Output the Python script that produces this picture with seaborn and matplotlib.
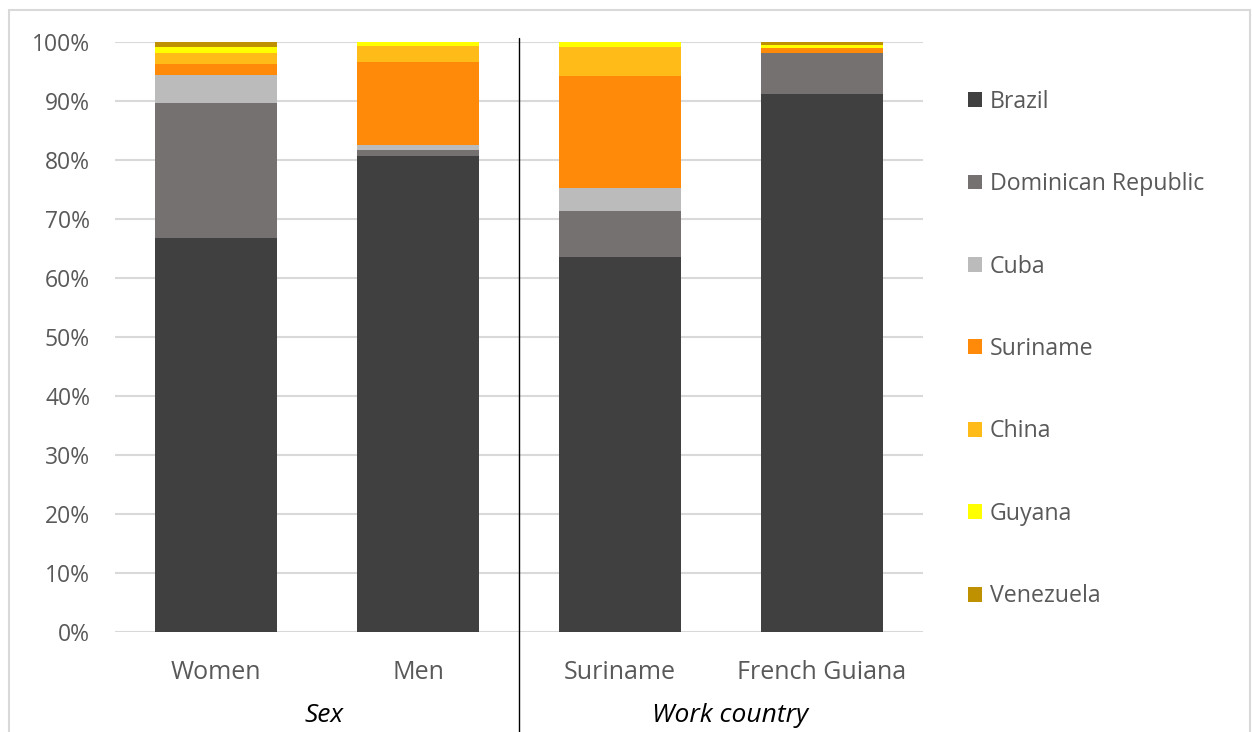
import matplotlib
matplotlib.use("Agg")
import matplotlib.pyplot as plt
import matplotlib.transforms as mtransforms
from matplotlib.patches import Patch, Rectangle
import seaborn as sns
import pandas as pd
import numpy as np

# ---- data ----
categories = ["Women", "Men", "Suriname", "French Guiana"]
groups = ["Sex", "Work country"]
series = ["Brazil", "Dominican Republic", "Cuba", "Suriname", "China", "Guyana", "Venezuela"]
brazil = [66.8, 80.6, 63.6, 91.2]
dominican = [22.8, 1.1, 7.8, 7.0]
cuba = [4.8, 0.8, 3.8, 0.0]
suriname = [1.9, 14.1, 19.1, 0.7]
china = [1.9, 2.8, 4.8, 0.0]
guyana = [1.0, 0.6, 0.9, 0.6]
venezuela = [0.8, 0.0, 0.0, 0.5]
yticks = [0, 10, 20, 30, 40, 50, 60, 70, 80, 90, 100]
colors = ["#404040", "#767171", "#BBBBBB", "#FF8A0A", "#FFBB18", "#FFFF00", "#BF9000"]

values = [brazil, dominican, cuba, suriname, china, guyana, venezuela]

sns.set_theme(style="white")
plt.rcParams["font.family"] = ["Open Sans", "DejaVu Sans"]

fig = plt.figure(figsize=(12.52, 7.32), dpi=100)
ax = fig.add_axes([115 / 1252, 1 - 632 / 732, 808 / 1252, 590 / 732])

# chart-area border
fig.patches.append(Rectangle((9 / 1252, -0.05), (1250 - 9) / 1252, (1 - 10 / 732) + 0.05,
                             transform=fig.transFigure, fill=False, edgecolor="#D9D9D9",
                             linewidth=1.5, zorder=0))

# stacked bars: draw cumulative totals from top series down
cum = np.cumsum(np.array(values, dtype=float), axis=0)
for i in range(len(series) - 1, -1, -1):
    df = pd.DataFrame({"cat": categories, "val": cum[i] / 100.0})
    sns.barplot(data=df, x="cat", y="val", color=colors[i], width=0.6,
                saturation=1, ax=ax, zorder=3, order=categories,
                linewidth=0, edgecolor="none")

ax.set_ylim(0, 1.0)
ax.set_xlim(-0.5, 3.5)
ax.set_yticks([t / 100 for t in yticks])
ax.set_yticklabels([f"{t}%" for t in yticks])
ax.yaxis.grid(True, color="#D9D9D9", linewidth=1.5, zorder=0)
ax.xaxis.grid(False)
for s in ax.spines.values():
    s.set_visible(False)
ax.set_xlabel("")
ax.set_ylabel("")
ax.tick_params(axis="y", length=0, pad=18, labelsize=16.5, labelcolor="#595959")
ax.tick_params(axis="x", length=0, pad=20, labelsize=18, labelcolor="#595959")

# separator line between groups
ax.axvline(1.5, ymin=-100 / 590, ymax=(632 - 38) / 590, color="black",
           linewidth=1.0, clip_on=False, zorder=5)

# group labels
trans = mtransforms.blended_transform_factory(ax.transData, fig.transFigure)
ax.text(0.535, 1 - 715 / 732, groups[0], transform=trans, ha="center", va="center",
        fontsize=19, style="italic", color="black")
ax.text(2.545, 1 - 715 / 732, groups[1], transform=trans, ha="center", va="center",
        fontsize=19, style="italic", color="black")

# legend
handles = [Patch(facecolor=c, edgecolor="none", label=s) for s, c in zip(series, colors)]
leg = fig.legend(handles=handles, loc="center left",
                 bbox_to_anchor=(968 / 1252, 1 - 349 / 732), frameon=False,
                 fontsize=16.7, labelcolor="#595959", handlelength=0.6, handleheight=0.6,
                 handletextpad=0.35, labelspacing=2.52, borderaxespad=0, borderpad=0)

fig.savefig("out.png", dpi=100)
